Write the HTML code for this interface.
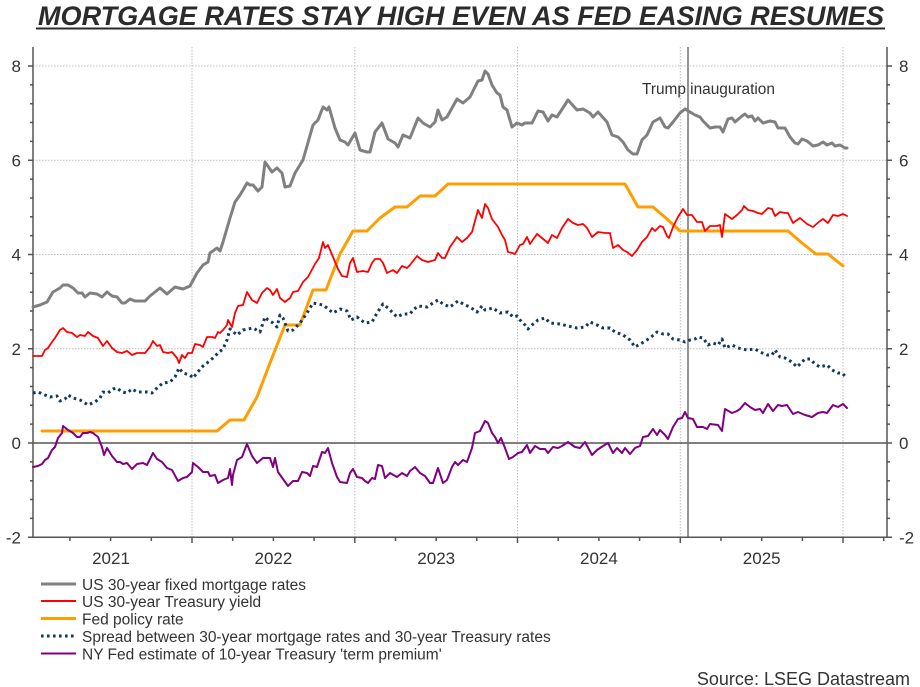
<!DOCTYPE html>
<html>
<head>
<meta charset="utf-8">
<style>
html,body{margin:0;padding:0;background:#fff;}
svg{display:block;}
text{font-family:"Liberation Sans",Arial,sans-serif;}
</style>
</head>
<body>
<svg width="920" height="687" viewBox="0 0 920 687" xmlns="http://www.w3.org/2000/svg">
<rect width="920" height="687" fill="#fff"/>

<!-- Title -->
<text x="38" y="25" font-size="27" font-weight="bold" font-style="italic" fill="#2b2b2b" textLength="846" lengthAdjust="spacingAndGlyphs">MORTGAGE RATES STAY HIGH EVEN AS FED EASING RESUMES</text>
<rect x="36" y="27.5" width="849" height="2" fill="#2b2b2b"/>

<!-- Gridlines -->
<g stroke="#bdbdbd" stroke-width="1" stroke-dasharray="1.5 1.5" fill="none">
<path d="M33 66H887 M33 160.25H887 M33 254.5H887 M33 348.75H887"/>
<path d="M192 47V537 M354.8 47V537 M517.5 47V537 M680.3 47V537 M843 47V537"/>
</g>

<!-- Zero line -->
<path d="M33 443H887" stroke="#555" stroke-width="1.4"/>

<!-- Trump inauguration line -->
<path d="M688 47V537" stroke="#707070" stroke-width="1.5"/>
<text x="642" y="94" font-size="15.4" fill="#333">Trump inauguration</text>

<!-- Axes -->
<g stroke="#555" stroke-width="1.5" fill="none">
<path d="M33 47V537.25 M887 47V537.25 M33 537.25H887"/>
<path d="M28 537.25H33 M28 443H33 M28 348.75H33 M28 254.5H33 M28 160.25H33 M28 66H33"/>
<path d="M30 518.4H33 M30 499.55H33 M30 480.7H33 M30 461.85H33 M30 424.15H33 M30 405.3H33 M30 386.45H33 M30 367.6H33 M30 329.9H33 M30 311.05H33 M30 292.2H33 M30 273.35H33 M30 235.65H33 M30 216.8H33 M30 197.95H33 M30 179.1H33 M30 141.4H33 M30 122.55H33 M30 103.7H33 M30 84.85H33"/>
<path d="M887 537.25H892 M887 443H892 M887 348.75H892 M887 254.5H892 M887 160.25H892 M887 66H892"/>
<path d="M887 518.4H890 M887 499.55H890 M887 480.7H890 M887 461.85H890 M887 424.15H890 M887 405.3H890 M887 386.45H890 M887 367.6H890 M887 329.9H890 M887 311.05H890 M887 292.2H890 M887 273.35H890 M887 235.65H890 M887 216.8H890 M887 197.95H890 M887 179.1H890 M887 141.4H890 M887 122.55H890 M887 103.7H890 M887 84.85H890"/>
<path d="M192 537V543 M354.8 537V543 M517.5 537V543 M680.3 537V543 M843 537V543"/>
<path d="M69.9 537V541 M110.6 537V541 M151.3 537V541 M232.7 537V541 M273.4 537V541 M314.1 537V541 M395.5 537V541 M436.2 537V541 M476.8 537V541 M558.2 537V541 M598.9 537V541 M639.6 537V541 M721 537V541 M761.7 537V541 M802.4 537V541 M883.7 537V541"/>
</g>

<!-- Axis labels -->
<g font-size="17" fill="#333" text-anchor="end">
<text x="21" y="72">8</text>
<text x="21" y="166.25">6</text>
<text x="21" y="260.5">4</text>
<text x="21" y="354.75">2</text>
<text x="21" y="449">0</text>
<text x="21" y="543.25">-2</text>
</g>
<g font-size="17" fill="#333" text-anchor="start">
<text x="899" y="72">8</text>
<text x="899" y="166.25">6</text>
<text x="899" y="260.5">4</text>
<text x="899" y="354.75">2</text>
<text x="899" y="449">0</text>
<text x="899" y="543.25">-2</text>
</g>
<g font-size="17" fill="#333" text-anchor="middle">
<text x="111" y="564">2021</text>
<text x="273.4" y="564">2022</text>
<text x="436.2" y="564">2023</text>
<text x="598.9" y="564">2024</text>
<text x="761.7" y="564">2025</text>
</g>

<!-- Series -->
<g fill="none" stroke-linejoin="round" stroke-linecap="round">
<polyline stroke="#ff9e00" stroke-width="3" points="42,431 217,431 230,420 244,420 257,397 270,363 285,325 300,325 313,290 326,290 340,254 353,231 367,231 380,218 395,207 407,207 420,196 435,196 448,184 625,184 638,207 653,207 667,219 680,231 788,231 802,243 816,254 828,254 843,266"/>

<polyline stroke="#808080" stroke-width="3" points="33,307 40,305 47,302 53,292 60,288 63,285 68,285 73,288 78,293 82,293 85,297 90,293 97,294 102,297 107,292 112,296 117,297 122,303 125,303 130,299 135,301 145,301 150,296 160,288 167,294 175,287 183,289 190,286 197,273 203,265 208,262 210,253 217,248 220,251 223,242 230,218 235,202 240,195 243,190 247,183 250,185 253,185 258,191 262,187 265,162 272,172 277,168 282,173 285,187 290,186 295,173 303,160 313,125 318,120 323,107 327,110 329,107 335,128 340,140 345,142 348,145 355,133 360,150 367,152 370,152 375,132 382,123 388,139 395,143 398,147 403,135 410,138 418,118 423,123 430,127 435,122 438,110 442,120 447,117 452,108 457,99 463,103 470,97 478,81 482,80 485,71 488,74 492,85 497,93 500,95 503,107 507,110 512,127 517,123 522,125 525,123 532,123 538,111 543,112 548,121 552,115 557,117 568,100 577,110 583,109 590,113 593,117 598,112 607,122 612,135 618,137 623,142 628,150 633,154 637,154 642,140 647,135 653,122 660,118 665,127 668,128 673,122 680,113 685,109 690,112 695,115 700,117 703,121 710,128 715,127 720,127 723,132 728,119 732,118 735,122 742,116 745,114 748,117 752,116 755,121 758,118 763,123 770,121 775,122 778,128 785,128 790,137 795,143 798,144 802,139 807,141 813,146 818,145 823,142 827,145 832,143 835,146 840,145 845,148 847,148"/>

<polyline stroke="#ff0000" stroke-width="1.8" points="33,356 42,356 45,350 48,348 52,342 55,338 60,330 63,328 67,332 72,333 77,337 80,335 85,336 88,332 93,336 98,338 103,346 107,341 112,348 117,352 122,353 127,351 132,355 137,353 145,353 150,347 153,341 157,346 160,345 163,352 168,353 172,352 177,358 179,363 182,355 185,358 188,353 192,353 195,344 200,345 203,347 207,337 212,337 215,338 218,332 220,333 223,330 227,325 228,320 232,327 235,313 238,306 243,305 247,292 252,300 257,303 262,293 267,288 270,290 273,295 277,289 280,298 285,302 290,298 293,292 298,291 303,282 308,277 315,264 319,258 323,242 325,248 328,245 333,257 338,269 342,276 347,277 350,263 353,258 357,272 363,271 368,272 372,263 375,259 380,259 383,263 387,273 393,270 397,273 402,266 407,268 410,265 417,256 422,260 428,262 435,260 438,253 442,258 445,258 450,247 457,237 462,242 467,238 472,232 478,210 482,218 485,204 488,208 492,219 495,223 498,227 502,235 505,240 508,252 512,253 515,254 520,245 523,244 527,237 530,244 537,234 542,238 548,243 552,235 557,238 562,228 568,219 573,223 578,225 583,224 587,228 592,237 598,232 605,233 610,233 613,248 618,245 623,250 627,252 632,256 637,250 642,242 647,237 652,228 655,231 660,226 663,227 667,236 669,238 673,227 678,217 683,209 687,215 692,215 697,222 702,222 705,231 710,226 717,226 720,225 722,237 725,214 732,219 737,215 742,210 744,206 748,210 753,211 758,213 762,214 768,208 772,209 775,216 780,212 785,213 788,213 793,223 800,218 807,224 813,227 820,221 823,219 828,223 833,215 838,216 843,214 847,216"/>

<polyline stroke="#12395f" stroke-width="3" stroke-linecap="butt" stroke-dasharray="2.6 3.4" points="33,393 38,392 45,395 50,397 57,396 60,401 65,399 68,395 73,398 80,400 85,403 88,405 95,402 100,398 103,392 108,393 113,389 117,388 122,392 127,393 132,389 137,392 147,392 152,393 158,387 163,383 170,382 175,377 179,368 183,373 190,375 193,378 197,373 202,367 207,363 213,358 218,353 223,349 227,340 230,329 237,335 243,330 253,328 260,332 265,317 268,320 273,323 277,327 280,315 283,318 288,331 293,330 300,323 307,313 313,303 323,305 327,308 333,313 340,309 347,311 351,320 357,317 365,323 372,322 377,313 383,304 388,308 397,317 403,314 410,314 413,310 418,306 427,307 433,303 438,300 443,304 450,307 458,301 465,305 470,307 477,312 482,306 485,310 493,308 500,313 508,312 513,317 517,316 520,320 525,325 528,329 532,325 538,320 545,318 550,323 560,324 568,326 577,328 585,327 590,322 597,325 603,328 610,328 615,332 623,335 630,340 635,347 642,343 650,338 657,332 663,334 668,334 673,339 680,340 685,342 690,340 695,339 698,337 703,338 708,345 713,343 718,345 722,339 725,348 732,345 738,348 747,350 755,349 760,352 767,355 772,355 775,350 780,357 785,358 792,362 797,367 800,364 805,359 810,359 815,364 820,367 827,365 832,370 838,373 842,373 847,378"/>

<polyline stroke="#800080" stroke-width="2" points="33,467 38,466 42,464 45,460 48,458 52,450 55,447 58,438 62,433 63,426 68,430 73,433 77,437 80,437 83,433 87,433 90,432 93,433 98,437 102,447 104,455 107,448 112,456 117,462 120,462 123,464 127,463 132,469 137,464 143,463 147,465 153,453 157,459 162,462 167,468 172,470 178,481 183,478 187,477 192,472 193,463 198,467 203,472 208,472 210,476 215,475 218,483 223,480 228,478 230,469 232,485 233,475 237,460 242,457 247,444 252,456 257,463 263,458 270,458 273,467 275,458 278,472 283,479 288,486 293,481 298,481 302,472 307,473 310,476 313,466 317,467 322,452 325,453 328,448 332,463 337,477 340,482 347,483 350,473 353,469 357,477 362,478 365,481 368,483 372,478 375,479 378,465 382,466 385,478 390,473 397,477 402,473 407,476 410,471 415,467 420,473 425,476 430,483 433,483 438,468 443,483 447,480 452,467 455,462 458,465 463,460 467,462 472,448 475,433 480,431 485,421 488,423 492,433 495,437 498,443 501,438 505,448 509,459 513,457 518,453 522,452 527,445 530,453 535,446 540,449 545,449 548,453 553,447 558,448 562,446 568,442 575,447 580,448 585,442 592,455 597,450 603,446 608,443 613,453 617,448 622,453 625,448 630,454 635,448 640,446 643,437 648,436 653,429 657,435 660,430 665,435 668,439 673,427 678,419 682,418 685,412 688,418 693,419 697,427 703,427 707,429 710,424 718,425 722,431 725,409 732,413 737,411 740,409 745,403 750,407 755,410 760,409 763,413 768,404 773,411 778,405 782,406 787,405 793,414 798,412 805,415 812,417 818,413 823,412 827,413 833,405 838,407 843,404 847,408"/>
</g>

<!-- Legend -->
<g fill="none">
<path d="M41 584H76" stroke="#808080" stroke-width="3"/>
<path d="M41 601H76" stroke="#ff0000" stroke-width="2"/>
<path d="M41 618.5H76" stroke="#ff9e00" stroke-width="3"/>
<path d="M41 636H76" stroke="#12395f" stroke-width="3" stroke-dasharray="2.6 3.4"/>
<path d="M41 653.5H76" stroke="#800080" stroke-width="2"/>
</g>
<g font-size="15.5" fill="#333">
<text x="82" y="590">US 30-year fixed mortgage rates</text>
<text x="82" y="607">US 30-year Treasury yield</text>
<text x="82" y="624.5">Fed policy rate</text>
<text x="82" y="642">Spread between 30-year mortgage rates and 30-year Treasury rates</text>
<text x="82" y="659.5">NY Fed estimate of 10-year Treasury 'term premium'</text>
</g>

<!-- Source -->
<text x="910" y="685" font-size="18" fill="#333" text-anchor="end">Source: LSEG Datastream</text>
</svg>
</body>
</html>
